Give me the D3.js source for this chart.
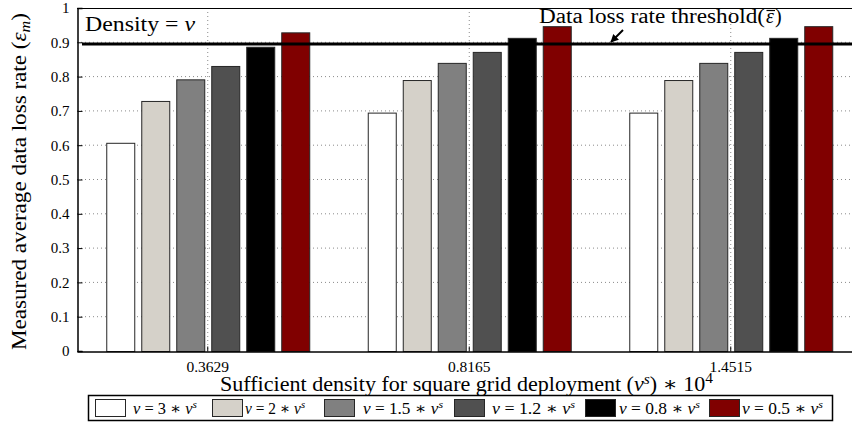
<!DOCTYPE html>
<html>
<head>
<meta charset="utf-8">
<script src="https://cdn.jsdelivr.net/npm/d3@7"></script>
<style>
  body { margin: 0; background: #fff; }
  svg text { font-family: "Liberation Serif", "DejaVu Serif", serif; fill: #000; }
</style>
</head>
<body>
<svg id="chart" width="852" height="426"></svg>
<script>
// group labels on the x axis
var groups = ["0.3629", "0.8165", "1.4515"];

// multipliers for each series (nu = k * nu^s)
var seriesK = ["3", "2", "1.5", "1.2", "0.8", "0.5"];
var seriesColors = ["#ffffff", "#d5d1c9", "#808080", "#505050", "#000000", "#800000"];

// measured average data loss rate, one array per series (across the 3 groups)
var nu3  = [0.607, 0.695, 0.695];
var nu2  = [0.729, 0.790, 0.790];
var nu15 = [0.792, 0.840, 0.840];
var nu12 = [0.831, 0.872, 0.872];
var nu08 = [0.887, 0.913, 0.913];
var nu05 = [0.929, 0.947, 0.947];

var threshold = 0.895;
var yTicks = [0, 0.1, 0.2, 0.3, 0.4, 0.5, 0.6, 0.7, 0.8, 0.9, 1];

var series = [nu3, nu2, nu15, nu12, nu08, nu05];

var svg = d3.select("#chart");
var margin = { left: 77, top: 8, right: 861.5, bottom: 351 };

var x0 = d3.scaleBand().domain(groups).range([margin.left, margin.right]).padding(0);
var x1 = d3.scaleBand().domain(d3.range(series.length))
    .range([0, x0.bandwidth()]).paddingInner(0.2).paddingOuter(0.836);
var y = d3.scaleLinear().domain([0, 1]).range([margin.bottom, margin.top]);

// grid
var grid = svg.append("g");
grid.selectAll("line.h").data(yTicks.slice(1, -1)).enter().append("line")
    .attr("x1", margin.left).attr("x2", 852)
    .attr("y1", d => y(d)).attr("y2", d => y(d))
    .attr("stroke", "#8a8a8a").attr("stroke-width", 1).attr("stroke-dasharray", "1,3");
grid.selectAll("line.v").data(groups).enter().append("line")
    .attr("x1", d => x0(d) + x0.bandwidth() / 2).attr("x2", d => x0(d) + x0.bandwidth() / 2)
    .attr("y1", margin.top).attr("y2", margin.bottom)
    .attr("stroke", "#8a8a8a").attr("stroke-width", 1).attr("stroke-dasharray", "1,3");

// bars
var gGroups = svg.append("g").selectAll("g").data(groups).enter().append("g")
    .attr("transform", d => "translate(" + x0(d) + ",0)");
gGroups.selectAll("rect")
    .data((g, gi) => series.map((s, si) => ({ si: si, v: s[gi] })))
    .enter().append("rect")
    .attr("x", d => x1(d.si) + 0.5)
    .attr("y", d => y(d.v) + 0.5)
    .attr("width", x1.bandwidth())
    .attr("height", d => y(0) - y(d.v))
    .attr("fill", d => seriesColors[d.si])
    .attr("stroke", "#262626").attr("stroke-width", 1);

// threshold line
svg.append("line")
    .attr("x1", 82).attr("x2", 852)
    .attr("y1", y(threshold)).attr("y2", y(threshold))
    .attr("stroke", "#000").attr("stroke-width", 3);

// axes frame
svg.append("line").attr("x1", margin.left).attr("x2", 852).attr("y1", margin.top + 0.5).attr("y2", margin.top + 0.5)
    .attr("stroke", "#000").attr("stroke-width", 1);
var yAxis = svg.append("g").attr("transform", "translate(" + (margin.left + 0.5) + ",0)")
    .call(d3.axisLeft(y).tickValues(yTicks).tickSize(-5).tickPadding(8)
        .tickFormat(d => (d === 0 || d === 1) ? d : d.toFixed(1)));
yAxis.select(".domain").attr("stroke-width", 1.5);
yAxis.selectAll("text").style("font-size", "15px").attr("font-family", null);

var xAxis = svg.append("g").attr("transform", "translate(0," + (margin.bottom + 0.5) + ")")
    .call(d3.axisBottom(x0).tickSize(-5).tickPadding(9).tickSizeOuter(0));
xAxis.select(".domain").attr("stroke-width", 1.5);
xAxis.selectAll("text").style("font-size", "15.5px").attr("font-family", null);

// labels
svg.append("text").attr("x", 85).attr("y", 31).style("font-size", "20px")
    .attr("textLength", 110).attr("lengthAdjust", "spacingAndGlyphs")
    .text("Density = ").append("tspan").attr("font-style", "italic").text("ν");

// threshold annotation: text, epsilon with bar, closing paren
svg.append("text").attr("x", 539).attr("y", 23).style("font-size", "20px")
    .attr("textLength", 226).attr("lengthAdjust", "spacingAndGlyphs")
    .text("Data loss rate threshold(");
svg.append("text").attr("x", 766).attr("y", 23).style("font-size", "20px")
    .attr("font-style", "italic").text("ε");
svg.append("line").attr("x1", 766.5).attr("x2", 775).attr("y1", 10.5).attr("y2", 10.5)
    .attr("stroke", "#000").attr("stroke-width", 1.2);
svg.append("text").attr("x", 775).attr("y", 23).style("font-size", "20px").text(")");

svg.append("defs").append("marker").attr("id", "ah")
    .attr("viewBox", "0 0 10 10").attr("refX", 9).attr("refY", 5)
    .attr("markerWidth", 4).attr("markerHeight", 4).attr("orient", "auto")
    .append("path").attr("d", "M0,0 L10,5 L0,10 z").attr("fill", "#000");
svg.append("line").attr("x1", 623).attr("y1", 30).attr("x2", 611).attr("y2", 42)
    .attr("stroke", "#000").attr("stroke-width", 2).attr("marker-end", "url(#ah)");

var xt = svg.append("text").attr("x", 220).attr("y", 391).style("font-size", "20px")
    .attr("textLength", 493).attr("lengthAdjust", "spacingAndGlyphs");
xt.append("tspan").text("Sufficient density for square grid deployment (");
xt.append("tspan").attr("font-style", "italic").text("ν");
xt.append("tspan").attr("font-style", "italic").attr("dy", -7).style("font-size", "14px").text("s");
xt.append("tspan").attr("dy", 7).text(") ∗ 10");
xt.append("tspan").attr("dy", -8).style("font-size", "14px").text("4");

var yt = svg.append("text").attr("transform", "translate(26,350) rotate(-90)")
    .style("font-size", "20px")
    .attr("textLength", 337).attr("lengthAdjust", "spacingAndGlyphs");
yt.append("tspan").text("Measured average data loss rate (");
yt.append("tspan").attr("font-style", "italic").text("ε");
yt.append("tspan").attr("font-style", "italic").attr("dy", 4).style("font-size", "14px").text("m");
yt.append("tspan").attr("dy", -4).text(")");

// legend
var legendX = [95, 212, 324, 454, 585, 709];
var legendTextX = [133, 245, 363, 492, 619, 742];
var legendW = [64, 60, 80, 83, 81, 81];
svg.append("rect").attr("x", 88.5).attr("y", 395.5).attr("width", 744).attr("height", 25)
    .attr("fill", "#fff").attr("stroke", "#000").attr("stroke-width", 1.5);
seriesK.forEach(function(k, i) {
  svg.append("rect").attr("x", legendX[i] + 0.5).attr("y", 399.5).attr("width", 30).attr("height", 17)
      .attr("fill", seriesColors[i]).attr("stroke", "#262626").attr("stroke-width", 1);
  var t = svg.append("text").attr("x", legendTextX[i]).attr("y", 414).style("font-size", "16px")
      .attr("textLength", legendW[i]).attr("lengthAdjust", "spacingAndGlyphs");
  t.append("tspan").attr("font-style", "italic").text("ν");
  t.append("tspan").text(" = " + k + " ∗ ");
  t.append("tspan").attr("font-style", "italic").text("ν");
  t.append("tspan").attr("font-style", "italic").attr("dy", -6).style("font-size", "11px").text("s");
});
</script>
</body>
</html>
